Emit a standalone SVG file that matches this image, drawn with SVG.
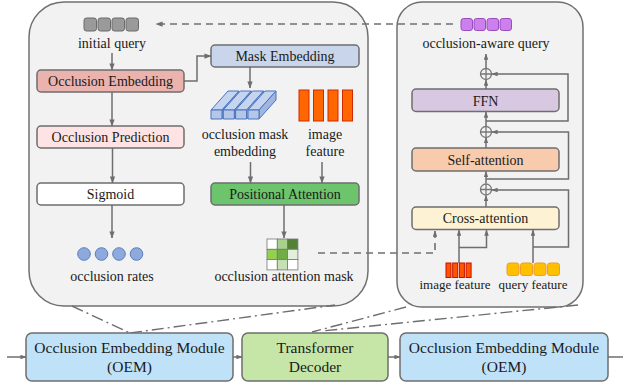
<svg xmlns="http://www.w3.org/2000/svg" width="623" height="383" viewBox="0 0 623 383">
<style>
text{font-family:"Liberation Serif","Times New Roman",serif;font-size:14px;fill:#1a1a1a;text-anchor:middle}
.big{font-size:15.5px}
.box{stroke:#6e6e6e;stroke-width:1.5}
.ln{fill:none;stroke:#6e6e6e;stroke-width:1.5}
.dash{fill:none;stroke:#707070;stroke-width:1.6;stroke-dasharray:7 5}
.dd{fill:none;stroke:#6e6e6e;stroke-width:1.4;stroke-dasharray:12 4 2 4}
.plus{fill:none;stroke:#777;stroke-width:1.3}
.panel{fill:#f2f2f2;stroke:#707070;stroke-width:1.5}
</style>
<defs>
<marker id="ah" viewBox="0 0 8 6" refX="7.5" refY="3" markerWidth="7" markerHeight="5.5" markerUnits="userSpaceOnUse" orient="auto"><path d="M0,0 L8,3 L0,6 z" fill="#6e6e6e"/></marker>
<marker id="ahs" viewBox="0 0 8 6" refX="7.5" refY="3" markerWidth="6" markerHeight="4.5" markerUnits="userSpaceOnUse" orient="auto"><path d="M0,0 L8,3 L0,6 z" fill="#6e6e6e"/></marker>
</defs>
<rect width="623" height="383" fill="#fff"/>
<g id="panel-left"><rect class="panel" x="29" y="2" width="339" height="304" rx="35"/></g>
<g id="panel-right"><rect class="panel" x="397" y="2" width="186" height="305" rx="25"/></g>

<g id="connectors">
<!-- dash-dot zoom lines -->
<path class="dd" d="M72,306 L130,333"/>
<path class="dd" d="M130,333 L335,305"/>
<path class="dd" d="M406,307 L312,332"/>
<path class="dd" d="M578,305 L322,331"/>
<!-- dashed feedback -->
<path class="dash" d="M453,24 H156" marker-end="url(#ah)"/>
<path class="dash" d="M318,253 H435 V231" marker-end="url(#ahs)"/>
<!-- left panel arrows -->
<path class="ln" d="M112,53 V70" marker-end="url(#ah)"/>
<path class="ln" d="M184,81 H197 V56 H211" marker-end="url(#ah)"/>
<path class="ln" d="M112,92 V126" marker-end="url(#ah)"/>
<path class="ln" d="M250,67 V88" marker-end="url(#ah)"/>
<path class="ln" d="M250.5,162 V183" marker-end="url(#ah)"/>
<path class="ln" d="M322,162 V183" marker-end="url(#ah)"/>
<path class="ln" d="M112.5,148 V183" marker-end="url(#ah)"/>
<path class="ln" d="M112,205 V238" marker-end="url(#ah)"/>
<path class="ln" d="M284,205 V238" marker-end="url(#ah)"/>
<!-- right panel arrows -->
<path class="ln" d="M486,68.5 V54" marker-end="url(#ahs)"/>
<path class="ln" d="M486,89 V80" marker-end="url(#ahs)"/>
<path class="ln" d="M486,126 V112" marker-end="url(#ahs)"/>
<path class="ln" d="M486,148 V137.5" marker-end="url(#ahs)"/>
<path class="ln" d="M486,183.5 V171.5" marker-end="url(#ahs)"/>
<path class="ln" d="M486,207 V195.5" marker-end="url(#ahs)"/>
<path class="ln" d="M486,121 H568 V74 H492" marker-end="url(#ahs)"/>
<path class="ln" d="M486,179 H568.5 V132 H492" marker-end="url(#ahs)"/>
<path class="ln" d="M533,247 H568.5 V190 H492" marker-end="url(#ahs)"/>
<path class="ln" d="M459,263 V230" marker-end="url(#ahs)"/>
<path class="ln" d="M459,247.5 H486.5 V230" marker-end="url(#ahs)"/>
<path class="ln" d="M533,263 V230" marker-end="url(#ahs)"/>
<!-- bottom row arrows -->
<path class="ln" d="M7,357 H26" marker-end="url(#ahs)"/>
<path class="ln" d="M233,357 H242" marker-end="url(#ahs)"/>
<path class="ln" d="M388,357 H400" marker-end="url(#ahs)"/>
<path class="ln" d="M608,357 H623"/>
</g>

<g id="initial-query">
<rect x="84" y="18" width="12.5" height="13" rx="2.5" fill="#9a9a9a" stroke="#6a6a6a" stroke-width="1"/>
<rect x="98" y="18" width="12.5" height="13" rx="2.5" fill="#9a9a9a" stroke="#6a6a6a" stroke-width="1"/>
<rect x="112" y="18" width="12.5" height="13" rx="2.5" fill="#9a9a9a" stroke="#6a6a6a" stroke-width="1"/>
<rect x="126" y="18" width="12.5" height="13" rx="2.5" fill="#9a9a9a" stroke="#6a6a6a" stroke-width="1"/>
<text x="112" y="48">initial query</text>
</g>
<g id="occlusion-embedding"><rect class="box" x="37" y="70" width="147" height="22" rx="4" fill="#eab3ae"/><text x="110.5" y="86">Occlusion Embedding</text></g>
<g id="mask-embedding"><rect class="box" x="211" y="45" width="148" height="22" rx="4" fill="#c9d5ea"/><text x="285" y="61">Mask Embedding</text></g>
<g id="occlusion-prediction"><rect class="box" x="37" y="126" width="147" height="22" rx="4" fill="#fde3e3"/><text x="110.5" y="142">Occlusion Prediction</text></g>
<g id="sigmoid"><rect class="box" x="37" y="183" width="147" height="22" rx="4" fill="#ffffff"/><text x="110.5" y="199">Sigmoid</text></g>
<g id="positional-attention"><rect class="box" x="211" y="183" width="148" height="22" rx="4" fill="#6cc46c"/><text x="285" y="199">Positional Attention</text></g>

<g id="occlusion-mask-embedding" stroke="#4a72c0" stroke-width="1" stroke-linejoin="round">
<g transform="translate(211,0)"><polygon points="0,110 11,110 28,91 17,91" fill="#c5d5ef"/><polygon points="11,110 28,91 28,100 11,119" fill="#9fb7e0"/><rect x="0" y="110" width="11" height="9" fill="#b4c7e7"/></g>
<g transform="translate(223.3,0)"><polygon points="0,110 11,110 28,91 17,91" fill="#c5d5ef"/><polygon points="11,110 28,91 28,100 11,119" fill="#9fb7e0"/><rect x="0" y="110" width="11" height="9" fill="#b4c7e7"/></g>
<g transform="translate(235.6,0)"><polygon points="0,110 11,110 28,91 17,91" fill="#c5d5ef"/><polygon points="11,110 28,91 28,100 11,119" fill="#9fb7e0"/><rect x="0" y="110" width="11" height="9" fill="#b4c7e7"/></g>
<g transform="translate(248,0)"><polygon points="0,110 11,110 28,91 17,91" fill="#c5d5ef"/><polygon points="11,110 28,91 28,100 11,119" fill="#9fb7e0"/><rect x="0" y="110" width="11" height="9" fill="#b4c7e7"/></g>
</g>
<g id="occlusion-mask-embedding-label"><text x="245" y="139">occlusion mask</text><text x="245" y="156">embedding</text></g>

<g id="image-feature-left">
<rect x="299" y="90" width="10" height="31" fill="#ff6600" stroke="#d02a00" stroke-width="1"/>
<rect x="313.5" y="90" width="10" height="31" fill="#ff6600" stroke="#d02a00" stroke-width="1"/>
<rect x="328" y="90" width="10" height="31" fill="#ff6600" stroke="#d02a00" stroke-width="1"/>
<rect x="342.5" y="90" width="10" height="31" fill="#ff6600" stroke="#d02a00" stroke-width="1"/>
<text x="325" y="139">image</text><text x="325" y="156">feature</text>
</g>

<g id="occlusion-rates" fill="#8eaadc" stroke="#5b7fc4" stroke-width="1">
<circle cx="84" cy="254" r="6.3"/><circle cx="101.5" cy="254" r="6.3"/><circle cx="119" cy="254" r="6.3"/><circle cx="136.5" cy="254" r="6.3"/>
</g>
<g id="occlusion-rates-label"><text x="112" y="281">occlusion rates</text></g>

<g id="occlusion-attention-mask" stroke="#777" stroke-width="0.8">
<rect x="267" y="239" width="10.3" height="10.3" fill="#ffffff"/>
<rect x="277.3" y="239" width="10.3" height="10.3" fill="#a9d18e"/>
<rect x="287.6" y="239" width="10.3" height="10.3" fill="#548235"/>
<rect x="267" y="249.3" width="10.3" height="10.3" fill="#92d050"/>
<rect x="277.3" y="249.3" width="10.3" height="10.3" fill="#70ad47"/>
<rect x="287.6" y="249.3" width="10.3" height="10.3" fill="#e2efda"/>
<rect x="267" y="259.6" width="10.3" height="10.3" fill="#ffffff"/>
<rect x="277.3" y="259.6" width="10.3" height="10.3" fill="#c5e0b4"/>
<rect x="287.6" y="259.6" width="10.3" height="10.3" fill="#ffffff"/>
</g>
<g id="occlusion-attention-mask-label"><text x="284" y="281">occlusion attention mask</text></g>

<g id="occlusion-aware-query">
<rect x="461" y="18.5" width="11.5" height="12" rx="2.5" fill="#cc80ee" stroke="#9a4cc0" stroke-width="1"/>
<rect x="474" y="18.5" width="11.5" height="12" rx="2.5" fill="#cc80ee" stroke="#9a4cc0" stroke-width="1"/>
<rect x="487" y="18.5" width="11.5" height="12" rx="2.5" fill="#cc80ee" stroke="#9a4cc0" stroke-width="1"/>
<rect x="500" y="18.5" width="11.5" height="12" rx="2.5" fill="#cc80ee" stroke="#9a4cc0" stroke-width="1"/>
<text x="486" y="48">occlusion-aware query</text>
</g>
<g id="add-1" class="plus"><circle cx="486" cy="74" r="5.5"/><path d="M480.5,74 H491.5 M486,68.5 V79.5"/></g>
<g id="ffn"><rect class="box" x="412" y="89" width="147" height="22.5" rx="4" fill="#d9c8e2"/><text x="485.5" y="105.5">FFN</text></g>
<g id="add-2" class="plus"><circle cx="486" cy="132" r="5.5"/><path d="M480.5,132 H491.5 M486,126.5 V137.5"/></g>
<g id="self-attention"><rect class="box" x="412" y="148" width="147" height="23" rx="4" fill="#f8cbad"/><text x="485.5" y="164.5">Self-attention</text></g>
<g id="add-3" class="plus"><circle cx="486" cy="189.5" r="5.5"/><path d="M480.5,189.5 H491.5 M486,184 V195"/></g>
<g id="cross-attention"><rect class="box" x="412" y="207" width="147" height="22.5" rx="4" fill="#fdf2d3"/><text x="485.5" y="223">Cross-attention</text></g>

<g id="image-feature-right">
<rect x="446" y="263" width="5" height="14.5" fill="#ff5500" stroke="#c81000" stroke-width="1"/>
<rect x="452.7" y="263" width="5" height="14.5" fill="#ff5500" stroke="#c81000" stroke-width="1"/>
<rect x="459.4" y="263" width="5" height="14.5" fill="#ff5500" stroke="#c81000" stroke-width="1"/>
<rect x="466.1" y="263" width="5" height="14.5" fill="#ff5500" stroke="#c81000" stroke-width="1"/>
<text x="455" y="289" style="font-size:13px">image feature</text>
</g>
<g id="query-feature">
<rect x="507" y="263" width="12" height="12.5" rx="2.5" fill="#ffc000" stroke="#f09a30" stroke-width="1"/>
<rect x="520.5" y="263" width="12" height="12.5" rx="2.5" fill="#ffc000" stroke="#f09a30" stroke-width="1"/>
<rect x="534" y="263" width="12" height="12.5" rx="2.5" fill="#ffc000" stroke="#f09a30" stroke-width="1"/>
<rect x="547.5" y="263" width="12" height="12.5" rx="2.5" fill="#ffc000" stroke="#f09a30" stroke-width="1"/>
<text x="533" y="289" style="font-size:13px">query feature</text>
</g>

<g id="oem-1"><rect class="box" x="26" y="333" width="207" height="48" rx="6" fill="#c0e2f8"/><text class="big" x="129.5" y="353">Occlusion Embedding Module</text><text class="big" x="129.5" y="372">(OEM)</text></g>
<g id="transformer-decoder"><rect class="box" x="242" y="333" width="146" height="48" rx="6" fill="#c6e6a8"/><text class="big" x="315" y="353">Transformer</text><text class="big" x="315" y="372">Decoder</text></g>
<g id="oem-2"><rect class="box" x="400" y="333" width="208" height="48" rx="6" fill="#c0e2f8"/><text class="big" x="504" y="353">Occlusion Embedding Module</text><text class="big" x="504" y="372">(OEM)</text></g>
</svg>
